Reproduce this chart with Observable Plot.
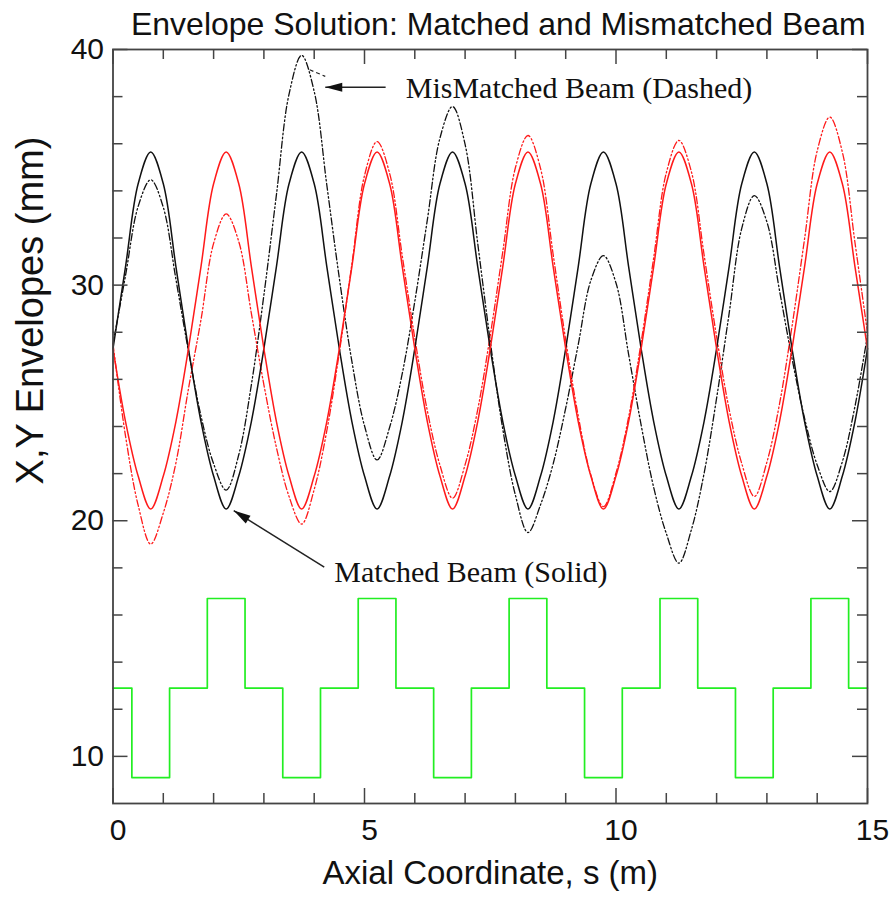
<!DOCTYPE html>
<html><head><meta charset="utf-8">
<script src="https://cdn.jsdelivr.net/npm/d3@7"></script>
<script src="https://cdn.jsdelivr.net/npm/@observablehq/plot@0.6"></script>
<style>body{margin:0;background:#fff;} #chart{width:889px;height:900px;}</style>
</head><body><div id="chart"></div>
<script>
// ---------- data ----------
const chartTitle = "Envelope Solution: Matched and Mismatched Beam";
const xLabel = "Axial Coordinate, s (m)";
const yLabel = "X,Y Envelopes (mm)";

const xMajor = [0, 5, 10, 15];
const xMinor = [1, 2, 3, 4, 6, 7, 8, 9, 11, 12, 13, 14];
const yMajor = [10, 20, 30, 40];
const yMinor = [12, 14, 16, 18, 22, 24, 26, 28, 32, 34, 36, 38];

const sGrid = [0,0.25,0.5,0.75,1,1.25,1.5,1.75,2,2.25,2.5,2.75,3,3.25,3.5,3.75,4,4.25,4.5,4.75,5,5.25,5.5,5.75,6,6.25,6.5,6.75,7,7.25,7.5,7.75,8,8.25,8.5,8.75,9,9.25,9.5,9.75,10,10.25,10.5,10.75,11,11.25,11.5,11.75,12,12.25,12.5,12.75,13,13.25,13.5,13.75,14,14.25,14.5,14.75,15];

const xMatched = [27.3,30.8,34.3,35.65,34.3,30.8,27.3,24.2,21.9,20.5,21.9,24.2,
  27.3,30.8,34.3,35.65,34.3,30.8,27.3,24.2,21.9,20.5,21.9,24.2,
  27.3,30.8,34.3,35.65,34.3,30.8,27.3,24.2,21.9,20.5,21.9,24.2,
  27.3,30.8,34.3,35.65,34.3,30.8,27.3,24.2,21.9,20.5,21.9,24.2,
  27.3,30.8,34.3,35.65,34.3,30.8,27.3,24.2,21.9,20.5,21.9,24.2,27.3];

const yMatched = [27.3,24.2,21.9,20.5,21.9,24.2,27.3,30.8,34.3,35.65,34.3,30.8,
  27.3,24.2,21.9,20.5,21.9,24.2,27.3,30.8,34.3,35.65,34.3,30.8,
  27.3,24.2,21.9,20.5,21.9,24.2,27.3,30.8,34.3,35.65,34.3,30.8,
  27.3,24.2,21.9,20.5,21.9,24.2,27.3,30.8,34.3,35.65,34.3,30.8,
  27.3,24.2,21.9,20.5,21.9,24.2,27.3,30.8,34.3,35.65,34.3,30.8,27.3];

const xMismatched = [27.5,30.42,33.34,34.47,33.30,30.26,27.21,24.44,22.42,21.30,22.80,25.76,
  29.58,33.85,38.11,39.75,38.22,34.26,30.29,26.75,24.03,22.58,23.97,26.24,
  29.31,32.78,36.24,37.58,35.97,31.79,27.62,23.88,21.09,19.50,20.68,22.41,
  24.78,27.49,30.20,31.25,30.09,27.07,24.06,21.41,19.46,18.20,19.63,22.00,
  25.20,28.81,32.41,33.80,32.68,29.78,26.88,24.34,22.37,21.24,22.51,24.85,27.87];

const yMismatched = [27.5,23.58,20.66,19.01,20.33,22.45,25.6,28.54,31.77,33.02,31.85,28.81,
  25.77,23.10,21.03,19.86,21.33,23.81,27.15,30.90,34.65,36.09,34.74,31.25,
  27.75,24.66,22.36,20.96,22.38,24.71,27.87,31.43,34.98,36.35,34.95,31.31,
  27.67,24.44,21.94,20.60,22.03,24.39,27.58,31.17,34.76,36.14,34.80,31.30,
  27.81,24.72,22.43,21.03,22.49,24.95,28.26,31.98,35.70,37.13,35.65,31.82,27.98];

// quadrupole lattice (green step function)
const latticeS = [0,0.375,1.125,1.875,2.625,3.375,4.125,4.875,5.625,6.375,7.125,7.875,8.625,9.375,10.125,10.875,11.625,12.375,13.125,13.875,14.625,15];
const latticeK = [12.9,9.1,12.9,16.7,12.9,9.1,12.9,16.7,12.9,9.1,12.9,16.7,12.9,9.1,12.9,16.7,12.9,9.1,12.9,16.7,12.9,12.9];

// annotations
const noteText = ["MisMatched Beam (Dashed)", "Matched Beam (Solid)"];
const noteS = [5.82, 4.40];
const noteV = [38.36, 17.80];
const arrowFromS = [5.42, 4.20];
const arrowFromV = [38.40, 18.03];
const arrowToS = [4.22, 2.40];
const arrowToV = [38.40, 20.43];
const fragFromS = [3.91], fragFromV = [39.14], fragToS = [4.22], fragToV = [38.86];

// ---------- layout ----------
const W = 889, H = 900, ML = 112.5, MR = 22, MT = 49, MB = 97;
const innerW = W - ML - MR, innerH = H - MT - MB;
const kx = innerW / 15, ky = innerH / 32;
const majorLen = 15, minorLen = 10;
const axisColor = "#444";

const rows = (ys) => sGrid.map((s, i) => ({s, v: ys[i]}));
const lattice = latticeS.map((s, i) => ({s, k: latticeK[i]}));
const notes = noteText.map((t, i) => ({t, s: noteS[i], v: noteV[i]}));
const arrows = arrowFromS.map((s, i) => {
  const dx = (arrowToS[i] - s) * kx, dy = -(arrowToV[i] - arrowFromV[i]) * ky;
  return {x1: s, y1: arrowFromV[i], x2: arrowToS[i], y2: arrowToV[i],
          angle: Math.atan2(dx, -dy) * 180 / Math.PI};
});
const frags = fragFromS.map((s, i) => ({x1: s, y1: fragFromV[i], x2: fragToS[i], y2: fragToV[i]}));

const arrowHead = {draw(context) {
  context.moveTo(0, 0); context.lineTo(-4.5, 17); context.lineTo(4.5, 17); context.closePath();
}};

const dashPattern = "7,2.5,1.5,2.5,1.5,2.5";
const sansFont = "'Liberation Sans', Arial, Helvetica, sans-serif";
const serifFont = "'Liberation Serif', 'Times New Roman', Times, serif";

const chart = Plot.plot({
  width: W, height: H,
  marginLeft: ML, marginRight: MR, marginTop: MT, marginBottom: MB,
  x: {domain: [0, 15]},
  y: {domain: [8, 40]},
  style: {fontFamily: sansFont, fontSize: "29px", background: "#fff", color: "#000", overflow: "visible"},
  marks: [
    Plot.line(lattice, {x: "s", y: "k", curve: "step-after", stroke: "#22ee22", strokeWidth: 1.7}),
    Plot.line(rows(xMismatched), {x: "s", y: "v", curve: "catmull-rom", stroke: "#111", strokeWidth: 1.3, strokeDasharray: dashPattern}),
    Plot.line(rows(yMismatched), {x: "s", y: "v", curve: "catmull-rom", stroke: "#ff1a1a", strokeWidth: 1.3, strokeDasharray: dashPattern}),
    Plot.line(rows(xMatched), {x: "s", y: "v", curve: "catmull-rom", stroke: "#111", strokeWidth: 1.5}),
    Plot.line(rows(yMatched), {x: "s", y: "v", curve: "catmull-rom", stroke: "#ff1a1a", strokeWidth: 1.5}),
    // frame and inward ticks on all four sides
    Plot.frame({stroke: axisColor, strokeWidth: 1.8}),
    Plot.tickX(xMajor, {insetTop: innerH - majorLen, stroke: axisColor, strokeWidth: 1.5}),
    Plot.tickX(xMinor, {insetTop: innerH - minorLen, stroke: axisColor, strokeWidth: 1.5}),
    Plot.tickX(xMajor, {insetBottom: innerH - majorLen, stroke: axisColor, strokeWidth: 1.5}),
    Plot.tickX(xMinor, {insetBottom: innerH - minorLen, stroke: axisColor, strokeWidth: 1.5}),
    Plot.tickY(yMajor, {insetRight: innerW - majorLen, stroke: axisColor, strokeWidth: 1.5}),
    Plot.tickY(yMinor, {insetRight: innerW - minorLen, stroke: axisColor, strokeWidth: 1.5}),
    Plot.tickY(yMajor, {insetLeft: innerW - majorLen, stroke: axisColor, strokeWidth: 1.5}),
    Plot.tickY(yMinor, {insetLeft: innerW - minorLen, stroke: axisColor, strokeWidth: 1.5}),
    // tick labels
    Plot.axisX({ticks: xMajor, tickSize: 0, tickPadding: 15, tickFormat: d => String(d), label: null, fontSize: 30, dx: 5, fill: "#111"}),
    Plot.axisY({ticks: yMajor, tickSize: 0, tickPadding: 9, tickFormat: d => String(d), label: null, fontSize: 30, fill: "#111"}),
    // axis labels and title
    Plot.text([xLabel], {frameAnchor: "bottom", dy: 80, fontSize: 33, fill: "#111"}),
    Plot.text([yLabel], {frameAnchor: "left", textAnchor: "middle", dx: -82, dy: -116, rotate: -90, fontSize: 38, fill: "#111"}),
    Plot.text([chartTitle], {frameAnchor: "top", dy: -37, dx: 8, fontSize: 32, fill: "#111"}),
    // annotations
    Plot.link(frags, {x1: "x1", y1: "y1", x2: "x2", y2: "y2", stroke: "#222", strokeWidth: 1.2, strokeDasharray: "4,3"}),
    Plot.link(arrows, {x1: "x1", y1: "y1", x2: "x2", y2: "y2", stroke: "#222", strokeWidth: 1.5}),
    Plot.dot(arrows, {x: "x2", y: "y2", symbol: arrowHead, rotate: "angle", fill: "#111", stroke: null, r: 5}),
    Plot.text(notes, {x: "s", y: "v", text: "t", textAnchor: "start", fontFamily: serifFont, fontSize: 30, fill: "#111"})
  ]
});
document.getElementById("chart").appendChild(chart);
</script>
</body></html>
